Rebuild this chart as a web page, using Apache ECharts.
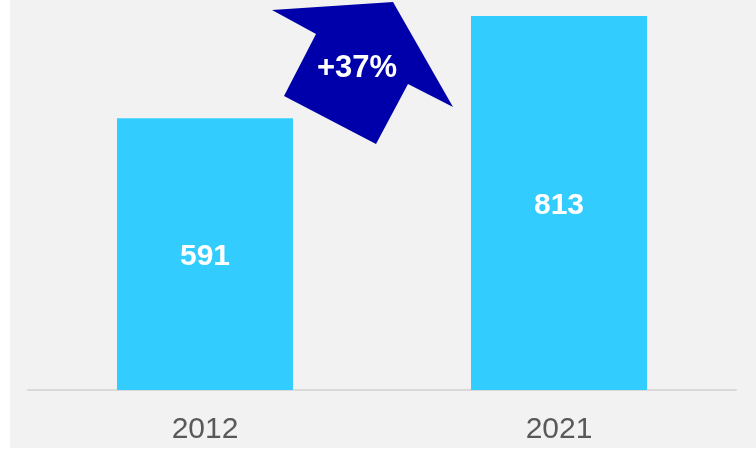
<!DOCTYPE html>
<html>
<head>
<meta charset="utf-8">
<script src="https://cdn.jsdelivr.net/npm/echarts@6/dist/echarts.min.js"></script>
<style>
  html, body { margin: 0; padding: 0; background: #ffffff; }
  .wrap { position: relative; width: 756px; height: 449px; }
  .bg { position: absolute; left: 10px; top: 0; width: 746px; height: 448px; background: #f2f2f2; }
  #chart { position: absolute; left: 0; top: 0; width: 756px; height: 449px; }
</style>
</head>
<body>
<div class="wrap">
  <div class="bg"></div>
  <div id="chart"></div>
</div>
<script>
// 数据
const years = ['2012', '2021']
const values = [591, 813]
const growthLabel = '+37%'

const myChart = echarts.init(document.getElementById('chart'))

const option = {
  animation: false,
  backgroundColor: 'transparent',
  grid: { left: 28, right: 20, top: 16, bottom: 59 },
  xAxis: {
    type: 'category',
    data: years,
    axisLine: { show: true, lineStyle: { color: '#d9d9d9', width: 2 } },
    axisTick: { show: false },
    axisLabel: {
      color: '#595959',
      fontSize: 30,
      fontFamily: 'Liberation Sans, Arial',
      margin: 25
    }
  },
  yAxis: {
    type: 'value',
    min: 0,
    max: 'dataMax',
    show: false,
    splitLine: { show: false }
  },
  series: [{
    type: 'bar',
    data: values,
    barWidth: 176,
    itemStyle: { color: '#33ccff' },
    label: {
      show: true,
      position: 'inside',
      offset: [0, 3],
      color: '#ffffff',
      fontSize: 30,
      fontWeight: 'bold',
      fontFamily: 'Liberation Sans, Arial'
    }
  }],
  // 增长箭头
  graphic: [
    {
      type: 'polygon',
      z: 10,
      shape: {
        points: [[284, 96], [316, 34], [272, 10], [393, 2], [453, 107], [408, 84], [376, 144]]
      },
      style: { fill: '#0000aa' }
    },
    {
      type: 'text',
      z: 11,
      x: 357,
      y: 68,
      style: {
        text: growthLabel,
        fill: '#ffffff',
        font: 'bold 31px "Liberation Sans", Arial',
        align: 'center',
        verticalAlign: 'middle'
      }
    }
  ]
}

myChart.setOption(option)
</script>
</body>
</html>
